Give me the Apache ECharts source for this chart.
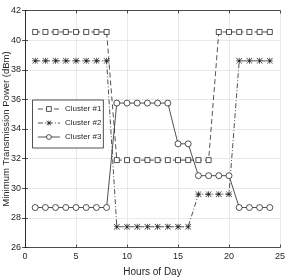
<!DOCTYPE html>
<html><head><meta charset="utf-8">
<script src="https://cdn.jsdelivr.net/npm/echarts@6/dist/echarts.min.js"></script>
<style>html,body{margin:0;padding:0;background:#fff}#c{width:291px;height:277px}</style>
</head><body><div id="c"></div>
<script>
var hours = [1,2,3,4,5,6,7,8,9,10,11,12,13,14,15,16,17,18,19,20,21,22,23,24];
var cluster1 = [40.55,40.55,40.55,40.55,40.55,40.55,40.55,40.55,31.9,31.9,31.9,31.9,31.9,31.9,31.9,31.9,31.9,31.9,40.55,40.55,40.55,40.55,40.55,40.55];
var cluster2 = [38.6,38.6,38.6,38.6,38.6,38.6,38.6,38.6,27.4,27.4,27.4,27.4,27.4,27.4,27.4,27.4,29.6,29.6,29.6,29.6,38.6,38.6,38.6,38.6];
var cluster3 = [28.7,28.7,28.7,28.7,28.7,28.7,28.7,28.7,35.75,35.75,35.75,35.75,35.75,35.75,33.0,33.0,30.85,30.85,30.85,30.85,28.7,28.7,28.7,28.7];
var names = ['Cluster #1','Cluster #2','Cluster #3'];
var xTicks = [0,5,10,15,20,25];
var yTicks = [26,28,30,32,34,36,38,40,42];

function pairs(v){ return hours.map(function(h,i){ return [h, v[i]]; }); }
var star = 'path://M-0.6,-5 h1.2 v10 h-1.2 z M-5,-0.6 h10 v1.2 h-10 z M-5,-4.3 L-4.3,-5 L5,4.3 L4.3,5 Z M4.3,-5 L5,-4.3 L-4.3,5 L-5,4.3 Z';
var F = '"Liberation Sans Narrow", "Liberation Sans", Arial, sans-serif';
var ink = '#262626';
var chart = echarts.init(document.getElementById('c'), null, {renderer:'canvas'});
var axisLine = {show:true, lineStyle:{color:ink, width:0.8}};
var axisTick = {show:true, inside:true, length:3, lineStyle:{color:ink, width:0.8}};
chart.setOption({
  animation:false,
  textStyle:{fontFamily:F},
  grid:{left:25, right:11, top:10.5, bottom:29.5, containLabel:false, outerBoundsMode:'none'},
  legend:{
    data:names, orient:'vertical', left:32.5, top:100,
    itemWidth:22, itemHeight:6, itemGap:4,
    backgroundColor:'#fff', borderColor:ink, borderWidth:0.8,
    padding:[4,2,6,5],
    lineStyle:{width:0.8},
    itemStyle:{borderWidth:0.8},
    textStyle:{fontSize:8, lineHeight:10, color:ink, fontFamily:F}
  },
  xAxis:[
    {type:'value', min:0, max:25, interval:5, position:'bottom',
      name:'Hours of Day', nameLocation:'middle', nameGap:20, nameMoveOverlap:false,
      nameTextStyle:{fontSize:10, color:ink, fontFamily:F},
      axisLabel:{fontSize:9, color:ink, margin:5, fontFamily:F},
      axisLine:axisLine, axisTick:axisTick,
      splitLine:{show:true, lineStyle:{color:'#e3e3e3', width:0.8}}},
    {type:'value', min:0, max:25, interval:5, position:'top',
      axisLabel:{show:false}, axisLine:axisLine, axisTick:axisTick, splitLine:{show:false}}
  ],
  yAxis:[
    {type:'value', min:26, max:42, interval:2, position:'left',
      name:'Minimum Transmission Power (dBm)', nameLocation:'middle', nameGap:14, nameMoveOverlap:false,
      nameTextStyle:{fontSize:9.5, color:ink, fontFamily:F},
      axisLabel:{fontSize:9, color:ink, margin:4, fontFamily:F},
      axisLine:axisLine, axisTick:axisTick,
      splitLine:{show:true, lineStyle:{color:'#e3e3e3', width:0.8}}},
    {type:'value', min:26, max:42, interval:2, position:'right',
      axisLabel:{show:false}, axisLine:axisLine, axisTick:axisTick, splitLine:{show:false}}
  ],
  series:[
    {name:names[0], type:'line', data:pairs(cluster1), symbol:'rect', symbolSize:5,
     itemStyle:{color:'#fff', borderColor:ink, borderWidth:0.8},
     lineStyle:{color:ink, width:0.8, type:[5,3]}},
    {name:names[1], type:'line', data:pairs(cluster2), symbol:star, symbolSize:6,
     itemStyle:{color:ink, borderWidth:0},
     lineStyle:{color:ink, width:0.8, type:[5,2,1,2]}},
    {name:names[2], type:'line', data:pairs(cluster3), symbol:'circle', symbolSize:6,
     itemStyle:{color:'#fff', borderColor:ink, borderWidth:0.8},
     lineStyle:{color:ink, width:0.8, type:'solid'}}
  ]
});
</script></body></html>
